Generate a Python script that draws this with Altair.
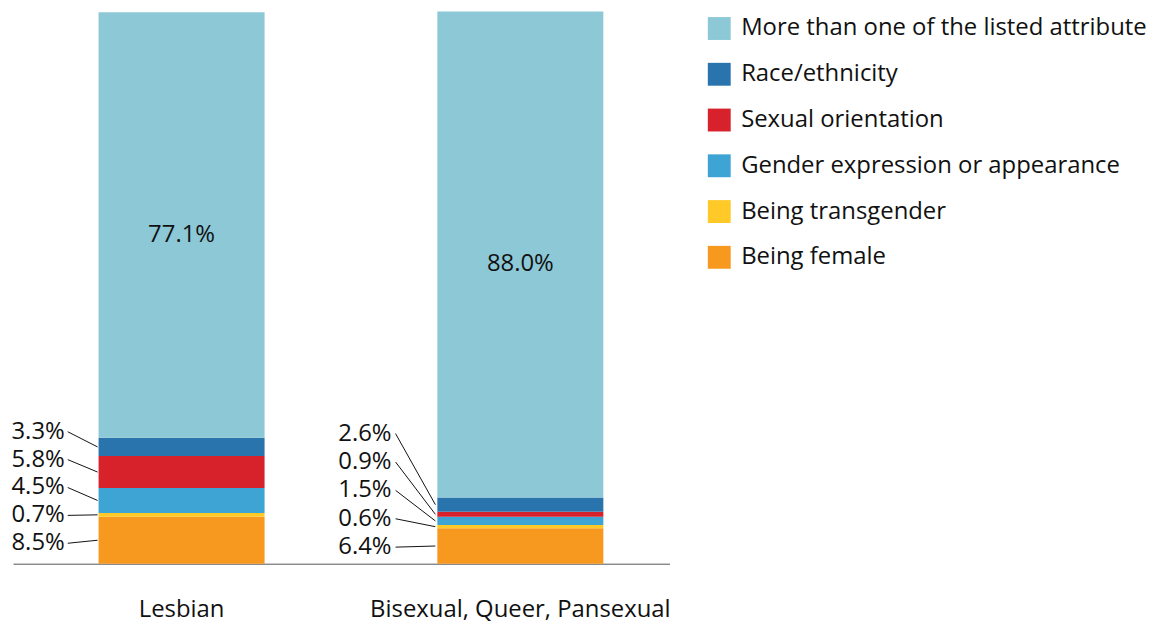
import altair as alt
import pandas as pd

categories = ["Lesbian", "Bisexual, Queer, Pansexual"]
attributes = [
    "Being female",
    "Being transgender",
    "Gender expression or appearance",
    "Sexual orientation",
    "Race/ethnicity",
    "More than one of the listed attribute",
]
lesbian_values = [8.5, 0.7, 4.5, 5.8, 3.3, 77.1]
bi_values = [6.4, 0.6, 1.5, 0.9, 2.6, 88.0]
colors = ["#F7981F", "#FFC928", "#3EA4D4", "#D7212B", "#2A74AE", "#8CC8D6"]

# layout constants for the stacked label ladder (in value units)
LADDER = {"Lesbian": (3.7, 5.05), "Bisexual, Queer, Pansexual": (3.0, 5.14)}

rows = []
for cat, vals in zip(categories, [lesbian_values, bi_values]):
    start = 0.0
    lb, ls = LADDER[cat]
    for i, (att, v) in enumerate(zip(attributes, vals)):
        end = start + v
        rows.append({
            "cat": cat, "att": att, "value": v, "start": start, "end": end,
            "mid": (start + end) / 2, "order": i,
            "slot": lb + i * ls,
            "big": i == len(vals) - 1,
        })
        start = end
df = pd.DataFrame(rows)

FONT = "Open Sans"
FS = 24

xenc = alt.X(
    "cat:N", sort=categories, title=None,
    scale=alt.Scale(paddingInner=0.51, paddingOuter=0.224, align=0.564),
    axis=alt.Axis(labelAngle=0, ticks=False, domainColor="#555555", labelFontSize=FS,
                  labelColor="#111111", labelPadding=34, labelFont=FONT, labelLimit=600),
)
yscale = alt.Scale(domain=[0, 100], nice=False)

base = alt.Chart(df)

bars = base.mark_bar().encode(
    x=xenc,
    y=alt.Y("start:Q", scale=yscale, axis=None),
    y2="end:Q",
    color=alt.Color(
        "att:N",
        scale=alt.Scale(domain=attributes[::-1], range=colors[::-1]),
        legend=alt.Legend(title=None, orient="none", legendX=698, legendY=5,
                          symbolType="square",
                          symbolSize=529, symbolStrokeWidth=0, symbolOpacity=1,
                          labelFontSize=FS, labelFont=FONT, labelColor="#111111",
                          rowPadding=22, labelLimit=600, labelOffset=10),
    ),
)

big_text = base.transform_filter("datum.big").transform_calculate(
    label="format(datum.value, '.1f') + '%'"
).mark_text(fontSize=FS, font=FONT, color="#111111", baseline="middle", dy=10).encode(
    x=alt.X("cat:N", sort=categories),
    y=alt.Y("mid:Q", scale=yscale),
    text="label:N",
)

layers = [bars, big_text]
for cat, tdx, lx0, lx1 in [("Lesbian", -34, -31, -1), ("Bisexual, Queer, Pansexual", -46, -42, -2)]:
    small = base.transform_filter(f"!datum.big && datum.cat == '{cat}'").transform_calculate(
        label="format(datum.value, '.1f') + '%'"
    )
    txt = small.mark_text(fontSize=FS, font=FONT, color="#111111", align="right",
                          baseline="middle", dx=tdx).encode(
        x=alt.X("cat:N", sort=categories, bandPosition=0),
        y=alt.Y("slot:Q", scale=yscale),
        text="label:N",
    )
    lines = small.mark_rule(color="#111111", strokeWidth=1, xOffset=lx0, x2Offset=lx1).encode(
        x=alt.X("cat:N", sort=categories, bandPosition=0),
        x2=alt.X2("cat:N", bandPosition=0),
        y=alt.Y("slot:Q", scale=yscale),
        y2="mid:Q",
    )
    layers += [lines, txt]

chart = alt.layer(*layers).properties(
    width=660, height=555,
    padding={"left": 3, "top": 2, "right": 0, "bottom": 0},
).configure(font=FONT, view=alt.ViewConfig(stroke=None))

chart.save("out.html", embed_options={"renderer": "svg", "actions": False})
